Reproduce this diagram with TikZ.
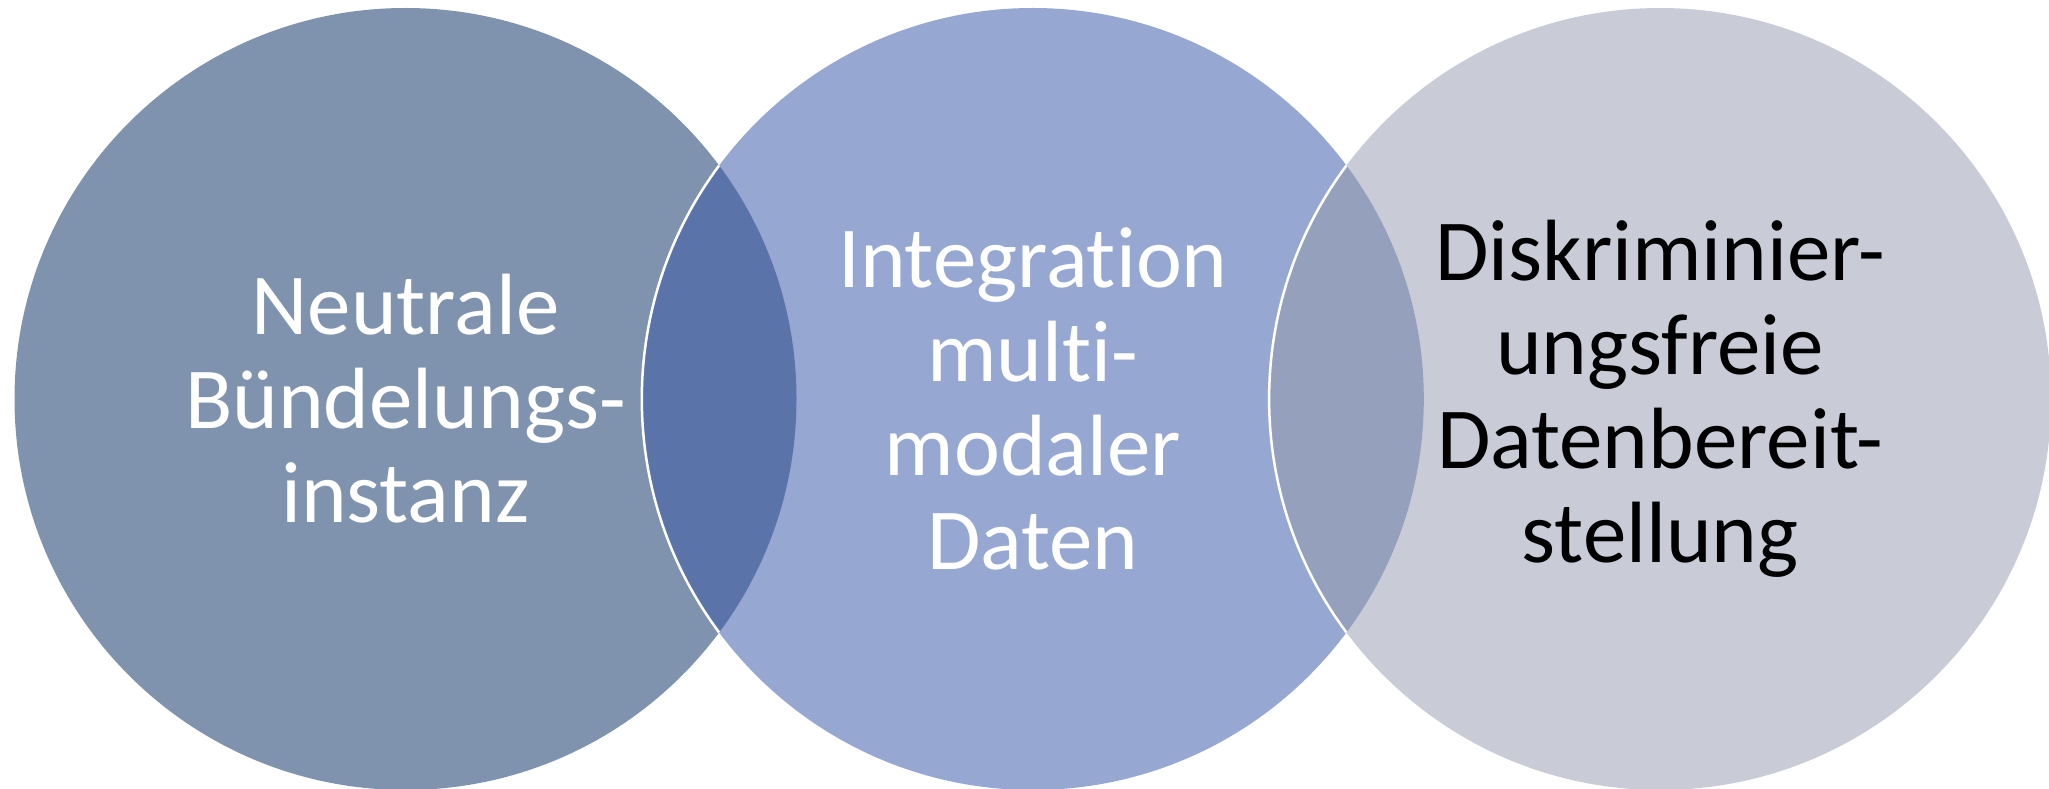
\documentclass[tikz,border=0pt]{standalone}
\usepackage{fontspec}
\setmainfont{Carlito}[Ligatures=NoCommon]
\usepackage{xcolor}
\usepackage{tikz}
\usetikzlibrary{positioning}
\definecolor{ringA}{HTML}{8093AE}
\definecolor{ringB}{HTML}{96A8D1}
\definecolor{ringC}{HTML}{C9CCD6}
\definecolor{lensAB}{HTML}{5A74A9}
\definecolor{lensBC}{HTML}{95A0BD}
\tikzset{
  ring/.style={circle, minimum size=391pt, inner sep=0pt, align=center,
               fill=#1, font=\fontsize{43.5}{47}\selectfont},
  ring/.default=ringA,
  rim/.style={draw=white, line width=1.25pt},
}

\begin{document}
\begin{tikzpicture}[x=0.5pt, y=0.5pt]
\useasboundingbox (0,0) rectangle (2049,788);

% ── 三个圆 ────────────────────────────────────────────────────────────────────
\node[ring=ringA, text=white] (buendel) at (405.5,389)
  {Neutrale\\Bündelungs-\\instanz};
\node[ring=ringB, text=white, right=-77.75pt of buendel] (integ)
  {Integration\\multi-\\modaler\\Daten};
\node[ring=ringC, text=black, right=-77.75pt of integ] (bereit)
  {Diskriminier-\\ungsfreie\\Datenbereit-\\stellung};

% ── 重叠区域 ──────────────────────────────────────────────────────────────────
\begin{scope}
  \clip (buendel.center) circle [radius=195.5pt];
  \fill[lensAB] (integ.center) circle [radius=195.5pt];
  \draw[rim] (integ.center) circle [radius=195.5pt];
\end{scope}
\begin{scope}
  \clip (integ.center) circle [radius=195.5pt];
  \fill[lensBC] (bereit.center) circle [radius=195.5pt];
  \draw[rim] (bereit.center) circle [radius=195.5pt];
\end{scope}

\end{tikzpicture}
\end{document}
